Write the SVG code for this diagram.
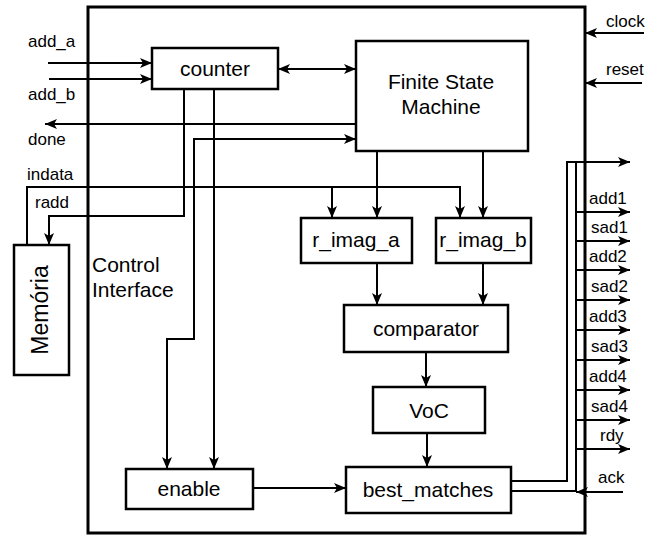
<svg xmlns="http://www.w3.org/2000/svg" width="657" height="536" viewBox="0 0 657 536">
<style>
.box{fill:#fff;stroke:#000;stroke-width:2.5}
.ln{fill:none;stroke:#000;stroke-width:2}
.t{font-family:"Liberation Sans",Arial,sans-serif;font-size:21px;text-anchor:middle;fill:#000}
.s{font-family:"Liberation Sans",Arial,sans-serif;font-size:17px;fill:#000}
</style>
<defs>
<marker id="ah" viewBox="0 0 12 10" refX="12" refY="5" markerWidth="12" markerHeight="10" orient="auto-start-reverse" markerUnits="userSpaceOnUse"><path d="M0,0 L12,5 L0,10 L3,5 z" fill="#000"/></marker>
</defs>
<rect width="657" height="536" fill="#fff"/>
<g id="control-interface">
<rect x="88" y="7" width="497" height="526" fill="none" stroke="#000" stroke-width="3"/>
<text class="t" x="92" y="272" style="text-anchor:start">Control</text>
<text class="t" x="92" y="297" style="text-anchor:start">Interface</text>
</g>
<g id="connectors">
<path class="ln" d="M48,63 H152" marker-end="url(#ah)"/>
<path class="ln" d="M49,79 H152" marker-end="url(#ah)"/>
<path class="ln" d="M278,69 H356" marker-start="url(#ah)" marker-end="url(#ah)"/>
<path class="ln" d="M356,124 H45" marker-end="url(#ah)"/>
<path class="ln" d="M167,469 V339 H194 V139 H356" marker-start="url(#ah)" marker-end="url(#ah)"/>
<path class="ln" d="M214,89 V469" marker-end="url(#ah)"/>
<path class="ln" d="M184,89 V216 H49 V245" marker-end="url(#ah)"/>
<path class="ln" d="M27,245 V187 H460 V218" marker-end="url(#ah)"/>
<path class="ln" d="M332,187 V218" marker-end="url(#ah)"/>
<path class="ln" d="M377,151 V218" marker-end="url(#ah)"/>
<path class="ln" d="M483,151 V218" marker-end="url(#ah)"/>
<path class="ln" d="M377,263 V305" marker-end="url(#ah)"/>
<path class="ln" d="M483,263 V305" marker-end="url(#ah)"/>
<path class="ln" d="M426,352 V387" marker-end="url(#ah)"/>
<path class="ln" d="M427,433 V467" marker-end="url(#ah)"/>
<path class="ln" d="M253,488 H346" marker-end="url(#ah)"/>
<path class="ln" d="M644,33 H585" marker-end="url(#ah)"/>
<path class="ln" d="M642,83 H585" marker-end="url(#ah)"/>
<path class="ln" d="M511,481 H567 V162 H630" marker-end="url(#ah)"/>
<path class="ln" d="M511,491 H576 V162"/>
<path class="ln" d="M576,212 H630" marker-end="url(#ah)"/>
<path class="ln" d="M576,241 H630" marker-end="url(#ah)"/>
<path class="ln" d="M576,270 H630" marker-end="url(#ah)"/>
<path class="ln" d="M576,300 H630" marker-end="url(#ah)"/>
<path class="ln" d="M576,330 H630" marker-end="url(#ah)"/>
<path class="ln" d="M576,360 H630" marker-end="url(#ah)"/>
<path class="ln" d="M576,390 H630" marker-end="url(#ah)"/>
<path class="ln" d="M576,420 H630" marker-end="url(#ah)"/>
<path class="ln" d="M576,449 H630" marker-end="url(#ah)"/>
<path class="ln" d="M623,492 H576" marker-end="url(#ah)"/>
</g>
<g id="signal-labels">
<text class="s" x="28" y="47">add_a</text>
<text class="s" x="28" y="100">add_b</text>
<text class="s" x="28" y="145">done</text>
<text class="s" x="27" y="180">indata</text>
<text class="s" x="35" y="208">radd</text>
<text class="s" x="606" y="27">clock</text>
<text class="s" x="606" y="75">reset</text>
<text class="s" x="589" y="204">add1</text>
<text class="s" x="591" y="233">sad1</text>
<text class="s" x="589" y="262">add2</text>
<text class="s" x="591" y="292">sad2</text>
<text class="s" x="589" y="322">add3</text>
<text class="s" x="591" y="352">sad3</text>
<text class="s" x="589" y="382">add4</text>
<text class="s" x="591" y="412">sad4</text>
<text class="s" x="600" y="441">rdy</text>
<text class="s" x="598" y="483">ack</text>
</g>
<g id="counter"><rect class="box" x="152" y="48" width="126" height="41"/><text class="t" x="215" y="76">counter</text></g>
<g id="fsm"><rect class="box" x="356" y="41" width="172" height="110"/><text class="t" x="441" y="89">Finite State</text><text class="t" x="441" y="114">Machine</text></g>
<g id="memoria"><rect class="box" x="14" y="245" width="55" height="130"/><text class="t" x="48" y="310" transform="rotate(-90 48 310)" style="font-size:23px">Memória</text></g>
<g id="r_imag_a"><rect class="box" x="301" y="218" width="111" height="45"/><text class="t" x="356" y="247">r_imag_a</text></g>
<g id="r_imag_b"><rect class="box" x="436" y="218" width="95" height="45"/><text class="t" x="483" y="247">r_imag_b</text></g>
<g id="comparator"><rect class="box" x="344" y="305" width="164" height="47"/><text class="t" x="426" y="336">comparator</text></g>
<g id="voc"><rect class="box" x="373" y="387" width="112" height="46"/><text class="t" x="429" y="418">VoC</text></g>
<g id="best_matches"><rect class="box" x="346" y="467" width="165" height="46"/><text class="t" x="428" y="497">best_matches</text></g>
<g id="enable"><rect class="box" x="126" y="469" width="127" height="40"/><text class="t" x="189" y="496">enable</text></g>
</svg>
